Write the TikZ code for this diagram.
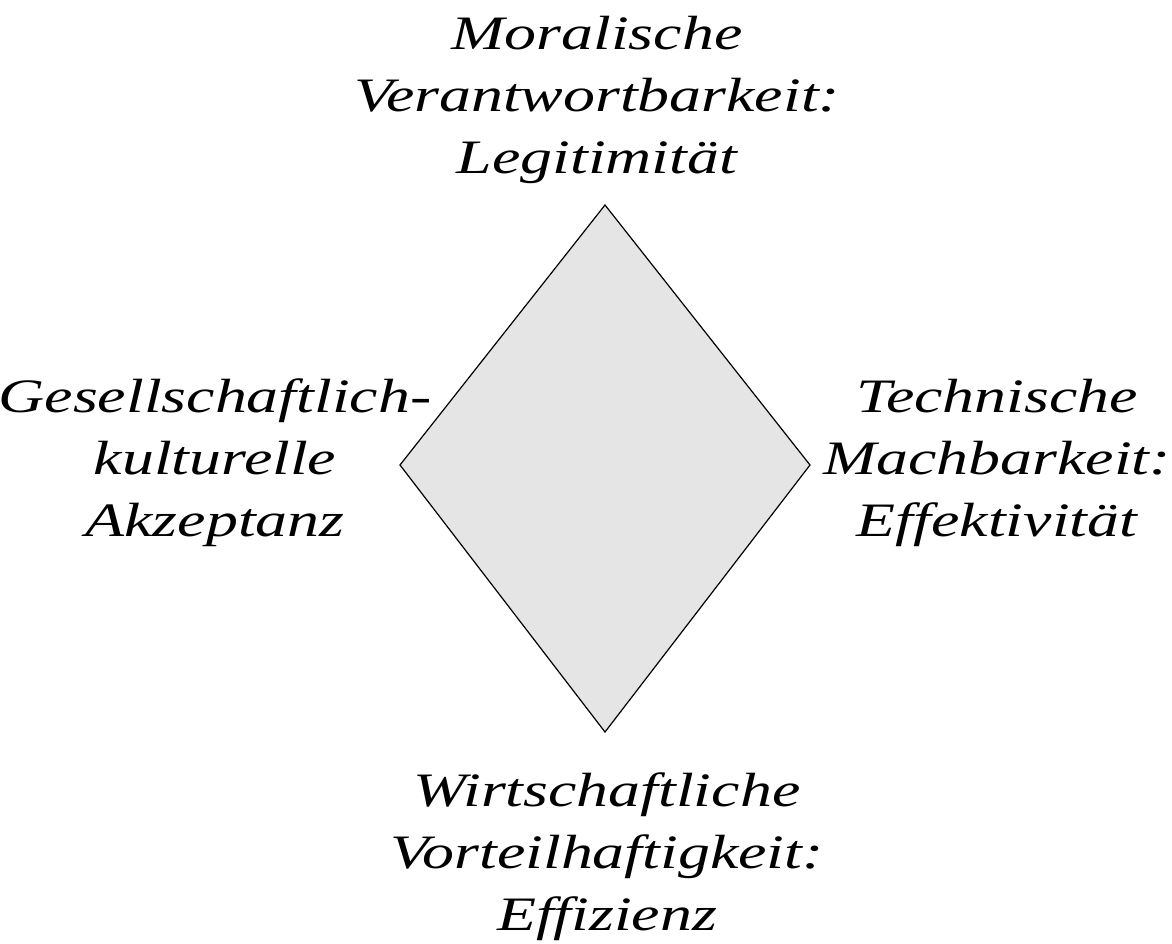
\documentclass[tikz,border=0pt]{standalone}
\usepackage{fontspec}
\newfontfamily\lblfont{Liberation Serif}[FakeStretch=1.33]
\begin{document}
\begin{tikzpicture}[x=1pt,y=-1pt,
  lbl/.style={font=\lblfont\fontsize{48}{62}\selectfont\itshape, align=center, inner sep=0pt}]
\useasboundingbox (0,0) rectangle (1172,943);
\draw[fill={rgb,255:red,229;green,229;blue,229}, line width=1.2pt]
  (605,205) coordinate (T) -- (810,465) coordinate (R) -- (605,732) coordinate (B) -- (400,465) coordinate (L) -- cycle;
\node[lbl] (top) at (597,100) {Moralische\\Verantwortbarkeit:\\Legitimität};
\node[lbl] (left) at (215,463) {Gesellschaftlich-\\kulturelle\\Akzeptanz};
\node[lbl] (right) at (997,463) {Technische\\Machbarkeit:\\Effektivität};
\node[lbl] (bottom) at (607,857) {Wirtschaftliche\\Vorteilhaftigkeit:\\Effizienz};
\end{tikzpicture}
\end{document}
